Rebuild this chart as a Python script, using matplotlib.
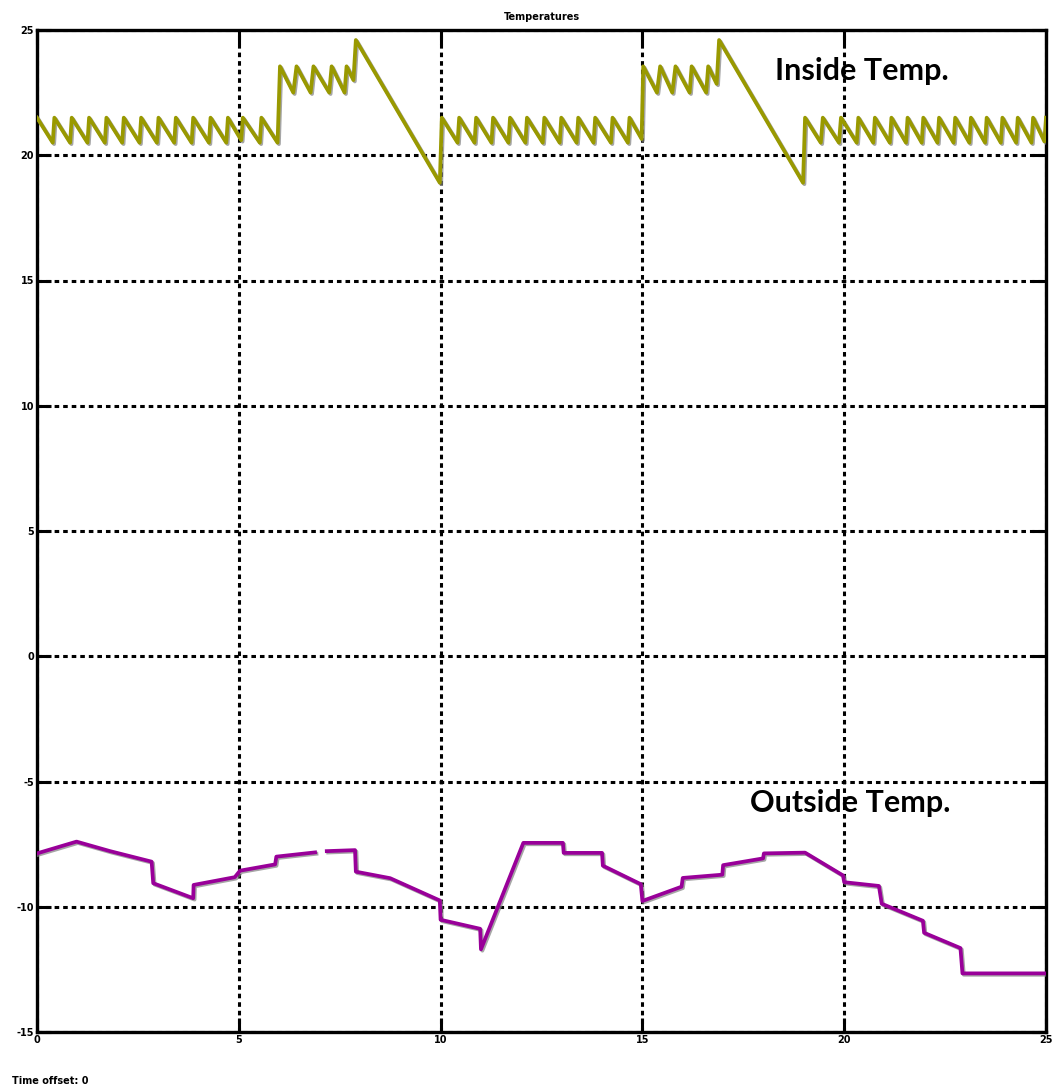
import numpy as np
import matplotlib
matplotlib.use("Agg")
import matplotlib.pyplot as plt
import matplotlib.patheffects as pe

# inside temperature, vertices (time, degC)
inside_time = [
    0.00, 0.39, 0.43, 0.82, 0.86, 1.25, 1.29, 1.68, 1.72, 2.11, 2.15, 2.54,
    2.58, 2.97, 3.01, 3.40, 3.44, 3.83, 3.87, 4.26, 4.30, 4.69, 4.73, 5.06,
    5.10, 5.52, 5.56, 5.96,
    6.02, 6.35, 6.43, 6.78, 6.85, 7.24, 7.30, 7.62, 7.67, 7.84, 7.90,
    9.98,
    10.03, 10.42, 10.46, 10.84, 10.88, 11.26, 11.30, 11.68, 11.72, 12.10,
    12.14, 12.53, 12.57, 12.95, 12.99, 13.37, 13.41, 13.79, 13.83, 14.22,
    14.26, 14.64, 14.68, 14.98,
    15.02, 15.36, 15.44, 15.74, 15.82, 16.17, 16.22, 16.58, 16.63, 16.84, 16.90,
    18.98,
    19.03, 19.42, 19.47, 19.87, 19.92, 20.31, 20.35, 20.72, 20.76, 21.13,
    21.17, 21.53, 21.57, 21.92, 21.96, 22.31, 22.35, 22.71, 22.75, 23.10,
    23.14, 23.49, 23.53, 23.88, 23.92, 24.26, 24.30, 24.64, 24.68, 24.96, 25.00,
]
inside_temp = [
    21.5, 20.5, 21.5, 20.5, 21.5, 20.5, 21.5, 20.5, 21.5, 20.5, 21.5, 20.5,
    21.5, 20.5, 21.5, 20.5, 21.5, 20.5, 21.5, 20.5, 21.5, 20.5, 21.5, 20.6,
    21.5, 20.5, 21.5, 20.5,
    23.55, 22.5, 23.55, 22.5, 23.55, 22.5, 23.55, 22.5, 23.55, 23.0, 24.6,
    18.9,
    21.5, 20.5, 21.5, 20.5, 21.5, 20.5, 21.5, 20.5, 21.5, 20.5,
    21.5, 20.5, 21.5, 20.5, 21.5, 20.5, 21.5, 20.5, 21.5, 20.5,
    21.5, 20.5, 21.5, 20.65,
    23.55, 22.5, 23.55, 22.5, 23.55, 22.5, 23.55, 22.5, 23.55, 22.85, 24.6,
    18.9,
    21.5, 20.5, 21.5, 20.5, 21.5, 20.5, 21.5, 20.5, 21.5, 20.5,
    21.5, 20.5, 21.5, 20.5, 21.5, 20.5, 21.5, 20.5, 21.5, 20.5,
    21.5, 20.5, 21.5, 20.5, 21.5, 20.5, 21.5, 20.5, 21.5, 20.55, 21.5,
]

# outside temperature (nan = small gap in the trace)
outside_time = [
    0.00, 0.98, 1.81, 2.84, 2.88, 3.87, 3.88, 4.90, 5.03, 5.90, 5.93, 6.89,
    7.00, 7.18, 7.88, 7.90, 8.75, 9.98, 10.00, 10.98, 11.00, 12.05, 13.03,
    13.05, 14.00, 14.02, 14.96, 15.00, 15.97, 16.00, 16.98, 17.00, 17.99,
    18.01, 19.03, 19.97, 20.00, 20.86, 20.93, 21.95, 21.98, 22.88, 22.93, 25.00,
]
outside_temp = [
    -7.87, -7.40, -7.78, -8.20, -9.06, -9.66, -9.13, -8.82, -8.56, -8.31, -8.00, -7.83,
    np.nan, -7.78, -7.74, -8.60, -8.86, -9.75, -10.52, -10.88, -11.70, -7.45, -7.45,
    -7.85, -7.85, -8.36, -9.10, -9.77, -9.20, -8.85, -8.72, -8.34, -8.07,
    -7.87, -7.84, -8.75, -9.02, -9.17, -9.88, -10.56, -11.04, -11.65, -12.66, -12.66,
]

x_ticks = [0, 5, 10, 15, 20, 25]
y_ticks = [-15, -10, -5, 0, 5, 10, 15, 20, 25]

fig = plt.figure(figsize=(10.53, 10.92), dpi=100)
ax = fig.add_axes([37 / 1053, 1 - 1032 / 1092, 1009 / 1053, 1002 / 1092])

shadow = [pe.SimpleLineShadow(offset=(1, -1), shadow_color="gray", alpha=0.7), pe.Normal()]
ax.plot(inside_time, inside_temp, color="#999900", lw=2.7, zorder=3, path_effects=shadow)
ax.plot(outside_time, outside_temp, color="#990099", lw=2.7, zorder=3, path_effects=shadow)

ax.set_xlim(0, 25)
ax.set_ylim(-15, 25)
ax.set_xticks(x_ticks)
ax.set_yticks(y_ticks)
ax.set_xticklabels([str(v) for v in x_ticks], fontsize=7, fontweight="bold")
ax.set_yticklabels([str(v) for v in y_ticks], fontsize=7, fontweight="bold")
ax.tick_params(direction="in", length=10, width=2.2, top=True, right=True, pad=2)
ax.grid(True, color="black", lw=2.2, linestyle=(0, (1.5, 1.3)))
for s in ax.spines.values():
    s.set_linewidth(2.4)

ax.set_title("Temperatures", fontsize=7, fontweight="bold", pad=7)
fig.text(12 / 1053, 1 - 1081 / 1092, "Time offset: 0", fontsize=7, fontweight="bold",
         va="center")

ax.text(20.43, 23.35, "Inside Temp.", fontsize=22, fontweight="bold", family="Lato",
        ha="center", va="center")
ax.text(20.14, -5.86, "Outside Temp.", fontsize=22, fontweight="bold", family="Lato",
        ha="center", va="center")

fig.savefig("out.png", dpi=100)
